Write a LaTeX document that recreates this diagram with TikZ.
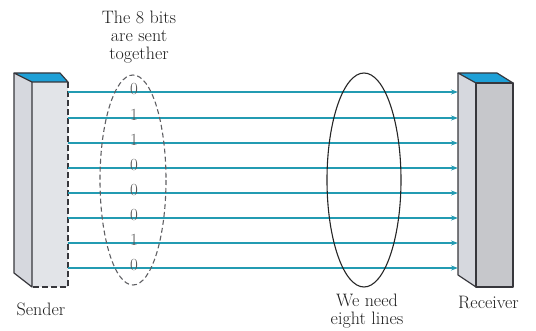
\documentclass[tikz,border=0pt]{standalone}
\usetikzlibrary{arrows.meta}
\definecolor{linec}{RGB}{35,155,178}
\definecolor{topc}{RGB}{30,160,215}
\definecolor{edgec}{RGB}{55,55,60}
\definecolor{sidec}{RGB}{214,216,222}
\definecolor{frontc}{RGB}{198,199,203}
\definecolor{txtc}{RGB}{30,30,30}
\tikzset{
  wire/.style={draw=linec, line width=1.4pt, -{Stealth[length=7pt,width=5pt]}},
  boxedge/.style={draw=edgec, line width=1.2pt, line join=round},
  lbl/.style={font=\fontsize{18}{18}\selectfont, text=txtc, align=center, inner sep=0pt},
  bitlbl/.style={font=\fontsize{17}{17}\selectfont, text=txtc!75, inner sep=0pt},
}
\begin{document}
\begin{tikzpicture}[x=1pt,y=-1pt]
\useasboundingbox (0,0) rectangle (536,331);
% sender
\fill[sidec] (14,73) -- (32,82) -- (32,287) -- (14,273) -- cycle;
\fill[sidec!70] (32,82) rectangle (68,287);
\fill[topc,boxedge] (14,73) -- (60,73) -- (68,82) -- (32,82) -- cycle;
\draw[boxedge] (14,73) -- (14,273) -- (32,287) -- (32,82);
\draw[boxedge, dashed, dash pattern=on 6pt off 3pt] (68,82) -- (68,287) -- (32,287);
% receiver
\fill[sidec] (458,73) -- (476,83) -- (476,287) -- (458,275) -- cycle;
\fill[frontc] (476,83) rectangle (513,287);
\filldraw[topc,boxedge] (458,73) -- (497,73) -- (513,83) -- (476,83) -- cycle;
\draw[boxedge] (458,73) -- (458,275) -- (476,287) -- (476,83);
\draw[boxedge] (476,287) rectangle (513,83);
% wires
\foreach \i/\y in {1/92,2/118,3/143,4/168,5/193,6/218,7/243,8/268}{
  \coordinate (s\i) at (68,\y);
  \coordinate (r\i) at (458,\y);
  \draw[wire] (s\i) -- (r\i);
}
% ellipses
\draw[draw=edgec!80, line width=1.1pt, dash pattern=on 5pt off 3pt] (133,180) ellipse [x radius=33, y radius=105];
\draw[draw=black!85, line width=1.1pt] (364,180) ellipse [x radius=37, y radius=107];
% bits
\foreach \b/\y in {0/92,1/118,1/143,0/168,0/193,0/218,1/243,0/268}{
  \node[bitlbl] at (134,\y-3) {\b};
}
% labels
\node[lbl] (t1) at (139,37) {The 8 bits\\are sent\\together};
\node[lbl] (t2) at (367,311) {We need\\eight lines};
\node[lbl] (snd) at (41,309) {Sender};
\node[lbl, anchor=west] (rcv) at (458,302) {Receiver};
\end{tikzpicture}
\end{document}
